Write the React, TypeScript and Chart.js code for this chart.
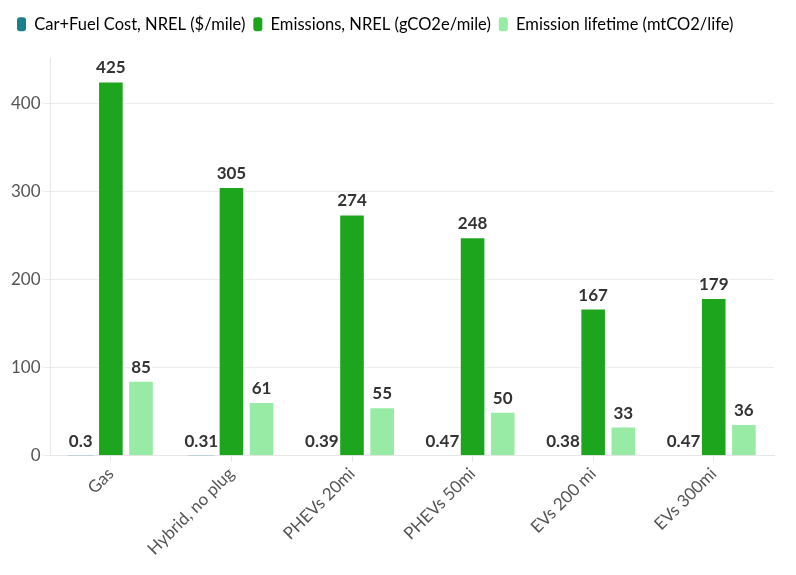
import React, { useEffect, useRef } from "react";
import { Chart, registerables } from "chart.js";

Chart.register(...registerables);

const categories = ["Gas", "Hybrid, no plug", "PHEVs 20mi", "PHEVs 50mi", "EVs 200 mi", "EVs 300mi"];
const costValues = [0.3, 0.31, 0.39, 0.47, 0.38, 0.47];
const emissionValues = [425, 305, 274, 248, 167, 179];
const lifetimeValues = [85, 61, 55, 50, 33, 36];
const seriesNames = ["Car+Fuel Cost, NREL ($/mile)", "Emissions, NREL (gCO2e/mile)", "Emission lifetime (mtCO2/life)"];
const yTicks = [0, 100, 200, 300, 400];

const FONT = "Lato, 'Open Sans', sans-serif";

const labelPlugin = {
  id: "valueLabels",
  afterDatasetsDraw(chart: any) {
    const ctx = chart.ctx;
    ctx.save();
    ctx.font = `bold 17px ${FONT}`;
    ctx.textAlign = "center";
    ctx.textBaseline = "alphabetic";
    chart.data.datasets.forEach((ds: any, di: number) => {
      const meta = chart.getDatasetMeta(di);
      meta.data.forEach((bar: any, i: number) => {
        const txt = String(ds.data[i]);
        const x = bar.x;
        const y = bar.y - 8;
        ctx.lineWidth = 4;
        ctx.strokeStyle = "rgba(255,255,255,0.9)";
        ctx.lineJoin = "round";
        ctx.strokeText(txt, x, y);
        ctx.fillStyle = "#333333";
        ctx.fillText(txt, x, y);
      });
    });
    ctx.restore();
  },
};

const legendSpacer = {
  id: "legendSpacer",
  beforeInit(chart: any) {
    const origFit = chart.legend.fit;
    chart.legend.fit = function fit() {
      origFit.bind(chart.legend)();
      this.height += 16;
    };
  },
};

export default function App() {
  const ref = useRef<HTMLCanvasElement>(null);
  useEffect(() => {
    if (!ref.current) return;
    const chart = new Chart(ref.current, {
      type: "bar",
      data: {
        labels: categories,
        datasets: [
          { label: seriesNames[0], data: costValues, backgroundColor: "#1b7f8e", borderColor: "#ffffff", borderWidth: 0 },
          { label: seriesNames[1], data: emissionValues, backgroundColor: "#1ea51e", borderColor: "#ffffff", borderWidth: 1 },
          { label: seriesNames[2], data: lifetimeValues, backgroundColor: "#97eba5", borderColor: "#ffffff", borderWidth: 1 },
        ],
      },
      options: {
        animation: false,
        responsive: false,
        maintainAspectRatio: false,
        layout: { padding: { left: 9, right: 22, top: 8, bottom: 14 } },
        datasets: { bar: { categoryPercentage: 0.75, barPercentage: 0.85 } } as any,
        plugins: {
          tooltip: { enabled: false },
          legend: {
            position: "top",
            align: "start",
            labels: {
              font: { family: FONT, size: 16.5 },
              color: "#444",
              boxWidth: 9,
              boxHeight: 14,
              useBorderRadius: true,
              borderRadius: 3,
              padding: 8,
              generateLabels: (chart: any) =>
                chart.data.datasets.map((ds: any, i: number) => ({
                  text: ds.label,
                  fillStyle: ds.backgroundColor,
                  strokeStyle: ds.backgroundColor,
                  lineWidth: 0,
                  borderRadius: 3,
                  datasetIndex: i,
                  hidden: false,
                })),
            } as any,
          },
        },
        scales: {
          x: {
            grid: { offset: false, drawOnChartArea: false, drawTicks: true, tickLength: 6, color: "#e6e6e6" },
            border: { color: "#e6e6e6" },
            ticks: {
              font: { family: FONT, size: 17 },
              color: "#555",
              maxRotation: 45,
              minRotation: 45,
              padding: 2,
            },
          },
          y: {
            min: 0,
            max: 451,
            grid: { color: "#ececec", tickLength: 8 },
            border: { color: "#e6e6e6" },
            afterBuildTicks: (axis: any) => {
              axis.ticks = yTicks.map((v) => ({ value: v }));
            },
            ticks: {
              font: { family: FONT, size: 17 },
              color: "#555",
              padding: 2,
            },
          },
        },
      },
      plugins: [labelPlugin, legendSpacer],
    });
    return () => chart.destroy();
  }, []);
  return (
    <div style={{ position: "fixed", left: 0, top: 0, width: 796, height: 575, background: "#fff" }}>
      <canvas ref={ref} width={796} height={575} style={{ width: 796, height: 575 }} />
    </div>
  );
}
